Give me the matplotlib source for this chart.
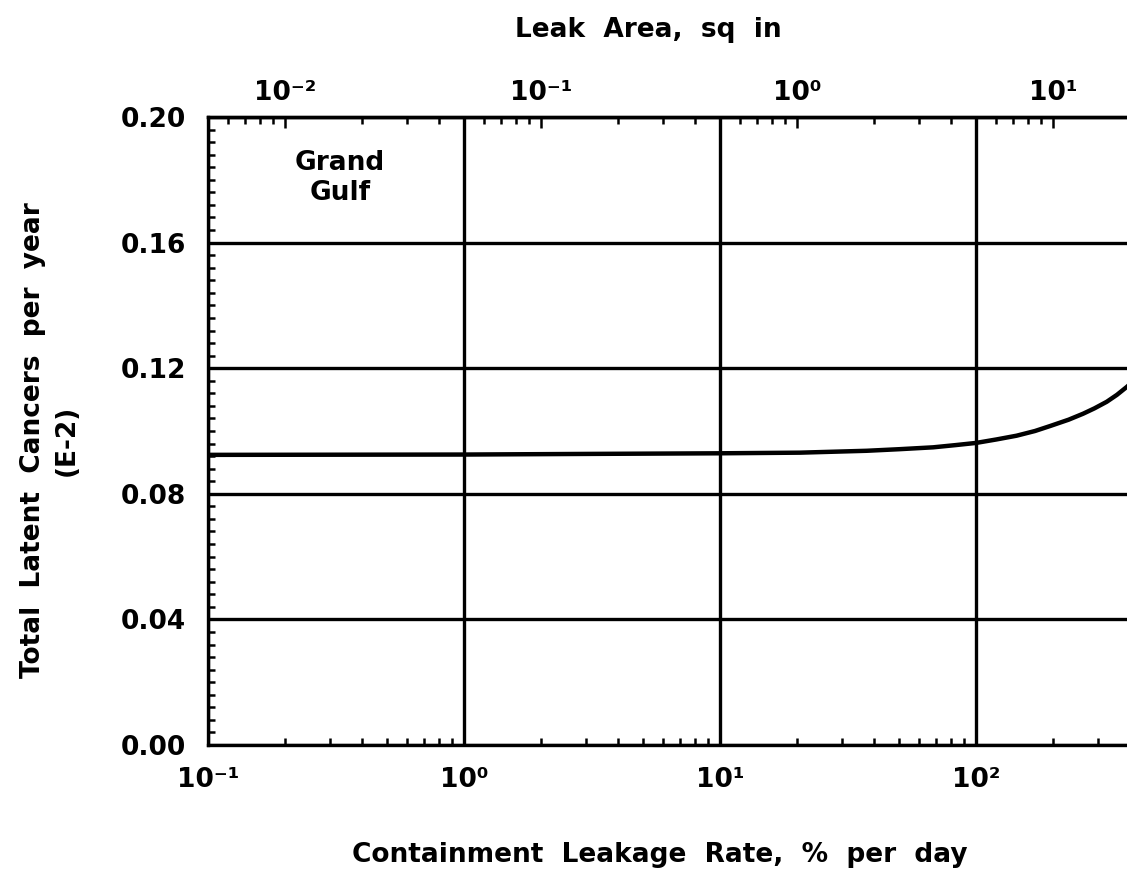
import matplotlib
matplotlib.use("Agg")
import matplotlib.pyplot as plt
from matplotlib.ticker import FixedLocator, LogLocator, FixedFormatter, NullFormatter, MultipleLocator
import numpy as np

# ---- data ----
leak_rate = [0.1, 1.0, 3.0, 10.0, 20.5, 37.4, 50.0, 68.0, 83.0, 100.0, 120.0, 144.0, 170.0,
             195.0, 230.0, 262.0, 290.0, 324.0, 355.0, 389.0, 400.0]
cancers = [0.0924, 0.0925, 0.0927, 0.0929, 0.0931, 0.0937, 0.0942, 0.0948, 0.0955, 0.0962, 0.0973,
           0.0985, 0.1000, 0.1016, 0.1036, 0.1055, 0.1072, 0.1093, 0.1115, 0.1141, 0.1150]

x_major = [0.1, 1, 10, 100]
x_major_labels = ["10\u207b\u00b9", "10\u2070", "10\u00b9", "10\u00b2"]
top_major = [0.01, 0.1, 1, 10]
top_major_labels = ["10\u207b\u00b2", "10\u207b\u00b9", "10\u2070", "10\u00b9"]
y_major = [0.00, 0.04, 0.08, 0.12, 0.16, 0.20]
y_labels = ["0.00", "0.04", "0.08", "0.12", "0.16", "0.20"]
area_per_rate = 0.05

plt.rcParams['font.family'] = ['DejaVu Sans']
plt.rcParams['font.weight'] = 'bold'
FS = 19

W, H = 1127, 876
fig = plt.figure(figsize=(W / 100, H / 100), dpi=100)
left_px, right_px, top_px, bot_px = 208, 1232, 117, 745
ax = fig.add_axes([left_px / W, 1 - bot_px / H, (right_px - left_px) / W, (bot_px - top_px) / H])

ax.plot(leak_rate, cancers, color='black', lw=3.2, solid_joinstyle='round', zorder=5)

ax.set_xscale('log')
ax.set_xlim(0.1, 1000)
ax.set_ylim(0, 0.2)

ax.xaxis.set_major_locator(FixedLocator(x_major))
ax.xaxis.set_major_formatter(FixedFormatter(x_major_labels))
ax.xaxis.set_minor_locator(LogLocator(base=10, subs=np.arange(2, 10), numticks=20))
ax.xaxis.set_minor_formatter(NullFormatter())

ax.yaxis.set_major_locator(FixedLocator(y_major))
ax.yaxis.set_major_formatter(FixedFormatter(y_labels))
ax.yaxis.set_minor_locator(MultipleLocator(0.004))

ax.grid(which='major', color='black', lw=2.4)
ax.set_axisbelow(False)

for s in ax.spines.values():
    s.set_linewidth(2.4)

ax.tick_params(axis='both', which='both', direction='in', top=False, right=False, width=1.8)
ax.tick_params(axis='x', which='major', length=8, pad=16, labelsize=FS)
ax.tick_params(axis='x', which='minor', length=5)
ax.tick_params(axis='y', which='major', length=8, pad=16, labelsize=FS)
ax.tick_params(axis='y', which='minor', length=5)

sec = ax.secondary_xaxis('top', functions=(lambda r: r * area_per_rate, lambda a: a / area_per_rate))
sec.xaxis.set_major_locator(FixedLocator(top_major))
sec.xaxis.set_major_formatter(FixedFormatter(top_major_labels))
sec.xaxis.set_minor_locator(LogLocator(base=10, subs=np.arange(2, 10), numticks=20))
sec.xaxis.set_minor_formatter(NullFormatter())
sec.tick_params(axis='x', which='both', direction='in', width=1.8)
sec.tick_params(axis='x', which='major', length=8, pad=8, labelsize=FS)
sec.tick_params(axis='x', which='minor', length=5)
sec.spines['top'].set_linewidth(2.4)

for lab in ax.get_xticklabels() + ax.get_yticklabels() + sec.get_xticklabels():
    lab.set_fontweight('bold')

fig.text(648 / W, 1 - 30 / H, "Leak  Area,  sq  in", ha='center', va='center', fontsize=FS, fontweight='bold')
fig.text(660 / W, 1 - 855 / H, "Containment  Leakage  Rate,  %  per  day", ha='center', va='center',
         fontsize=FS, fontweight='bold')
fig.text(50 / W, 1 - 440 / H, "Total  Latent  Cancers  per  year\n(E-2)", ha='center', va='center', rotation=90,
         fontsize=FS, fontweight='bold', multialignment='center', linespacing=1.4)
fig.text(340 / W, 1 - 178 / H, "Grand\nGulf", ha='center', va='center', fontsize=FS, fontweight='bold',
         linespacing=1.25, multialignment='center')

fig.savefig("out.png", dpi=100)
